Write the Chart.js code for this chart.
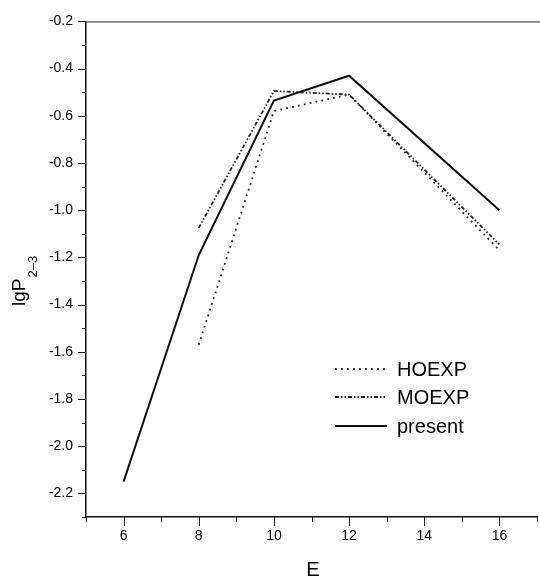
<!DOCTYPE html>
<html>
<head>
<meta charset="utf-8">
<script src="https://cdn.jsdelivr.net/npm/chart.js@4/dist/chart.umd.min.js"></script>
<style>
  html, body { margin: 0; padding: 0; background: #fff; overflow: hidden; width: 540px; height: 579px; }
  canvas { display: block; }
</style>
</head>
<body>
<canvas id="c" width="548" height="579"></canvas>
<script>
// ---- data ----
const presentE = [6, 8, 10, 12, 16];
const presentLgP = [-2.15, -1.19, -0.535, -0.43, -1.0];
const hoexpE = [8, 10, 12, 16];
const hoexpLgP = [-1.57, -0.58, -0.51, -1.17];
const moexpE = [8, 10, 12, 16];
const moexpLgP = [-1.075, -0.495, -0.51, -1.145];
const xTickLabels = [6, 8, 10, 12, 14, 16];
const yTickLabels = [-2.2, -2.0, -1.8, -1.6, -1.4, -1.2, -1.0, -0.8, -0.6, -0.4, -0.2];
const seriesNames = ['HOEXP', 'MOEXP', 'present'];
const xTitle = 'E';
const yTitleMain = 'lgP';
const yTitleSub = '2\u20133';

const pts = (xs, ys) => xs.map((x, i) => ({ x: x, y: ys[i] }));
const FONT = '"Liberation Sans", Arial, Helvetica, sans-serif';

const axisDecor = {
  id: 'axisDecor',
  afterDraw(chart) {
    const ctx = chart.ctx;
    const ca = chart.chartArea;
    const xs = chart.scales.x, ys = chart.scales.y;
    ctx.save();
    // top frame line
    ctx.strokeStyle = '#555';
    ctx.lineWidth = 1.2;
    ctx.beginPath();
    ctx.moveTo(ca.left, ca.top + 0.5);
    ctx.lineTo(chart.width, ca.top + 0.5);
    ctx.stroke();
    // tick marks
    ctx.strokeStyle = '#222';
    ctx.lineWidth = 1;
    ys.ticks.forEach(t => {
      const major = Math.round(t.value * 10) % 2 === 0;
      const py = Math.round(ys.getPixelForValue(t.value)) + 0.5;
      ctx.beginPath();
      ctx.moveTo(ca.left - (major ? 8 : 4), py);
      ctx.lineTo(ca.left, py);
      ctx.stroke();
    });
    xs.ticks.forEach(t => {
      const major = Math.round(t.value) % 2 === 0;
      const px = Math.round(xs.getPixelForValue(t.value)) + 0.5;
      ctx.beginPath();
      ctx.moveTo(px, ca.bottom);
      ctx.lineTo(px, ca.bottom + (major ? 9 : 5));
      ctx.stroke();
    });
    // axis titles
    ctx.fillStyle = '#000';
    ctx.font = '20px ' + FONT;
    ctx.textAlign = 'center';
    ctx.textBaseline = 'middle';
    ctx.fillText(xTitle, (ca.left + 540) / 2, 570);
    ctx.translate(25, 306);
    ctx.rotate(-Math.PI / 2);
    ctx.textAlign = 'left';
    ctx.textBaseline = 'alphabetic';
    ctx.font = '19px ' + FONT;
    ctx.fillText(yTitleMain, 0, 0);
    const w = ctx.measureText(yTitleMain).width;
    ctx.font = '13px ' + FONT;
    ctx.fillText(yTitleSub, w + 1, 12);
    ctx.restore();

    // legend
    ctx.save();
    const lx0 = 335, lx1 = 387, tx = 397;
    const rows = [369, 397, 426];
    chart.data.datasets.forEach((ds, i) => {
      const y = rows[i];
      ctx.strokeStyle = ds.borderColor;
      ctx.lineWidth = ds.borderWidth;
      ctx.setLineDash(ds.borderDash || []);
      ctx.beginPath();
      ctx.moveTo(lx0, y);
      ctx.lineTo(lx1, y);
      ctx.stroke();
      ctx.setLineDash([]);
      ctx.fillStyle = '#000';
      ctx.font = '20px ' + FONT;
      ctx.textAlign = 'left';
      ctx.textBaseline = 'alphabetic';
      ctx.fillText(ds.label, tx, y + 7);
    });
    ctx.restore();
  }
};

new Chart(document.getElementById('c'), {
  type: 'line',
  data: {
    datasets: [
      { label: seriesNames[0], data: pts(hoexpE, hoexpLgP), borderColor: '#222', borderWidth: 1.8, borderDash: [1.8, 4.2], pointRadius: 0, tension: 0, fill: false },
      { label: seriesNames[1], data: pts(moexpE, moexpLgP), borderColor: '#222', borderWidth: 1.8, borderDash: [4, 2, 1.5, 2, 1.5, 2], pointRadius: 0, tension: 0, fill: false },
      { label: seriesNames[2], data: pts(presentE, presentLgP), borderColor: '#111', borderWidth: 2, pointRadius: 0, tension: 0, fill: false }
    ]
  },
  options: {
    responsive: false,
    animation: false,
    devicePixelRatio: 1,
    layout: { padding: { left: 0, top: 19, right: 3, bottom: 0 } },
    plugins: { legend: { display: false }, tooltip: { enabled: false } },
    scales: {
      x: {
        type: 'linear', min: 5, max: 17,
        afterFit(s) { s.height = 62; },
        grid: { display: false, drawTicks: false },
        border: { display: true, color: '#111', width: 1.5 },
        ticks: {
          stepSize: 1, padding: 11, color: '#000', maxRotation: 0, autoSkip: false,
          font: { family: FONT, size: 14 },
          callback: v => xTickLabels.includes(v) ? String(v) : ''
        }
      },
      y: {
        type: 'linear', min: -2.3, max: -0.2,
        afterFit(s) { s.width = 86; },
        grid: { display: false, drawTicks: false },
        border: { display: true, color: '#111', width: 1.5 },
        ticks: {
          stepSize: 0.1, padding: 13, color: '#000', autoSkip: false,
          font: { family: FONT, size: 14 },
          callback: v => {
            const r = Math.round(v * 10) / 10;
            return yTickLabels.some(t => Math.abs(t - r) < 1e-9) ? r.toFixed(1) : '';
          }
        }
      }
    }
  },
  plugins: [axisDecor]
});
</script>
</body>
</html>
